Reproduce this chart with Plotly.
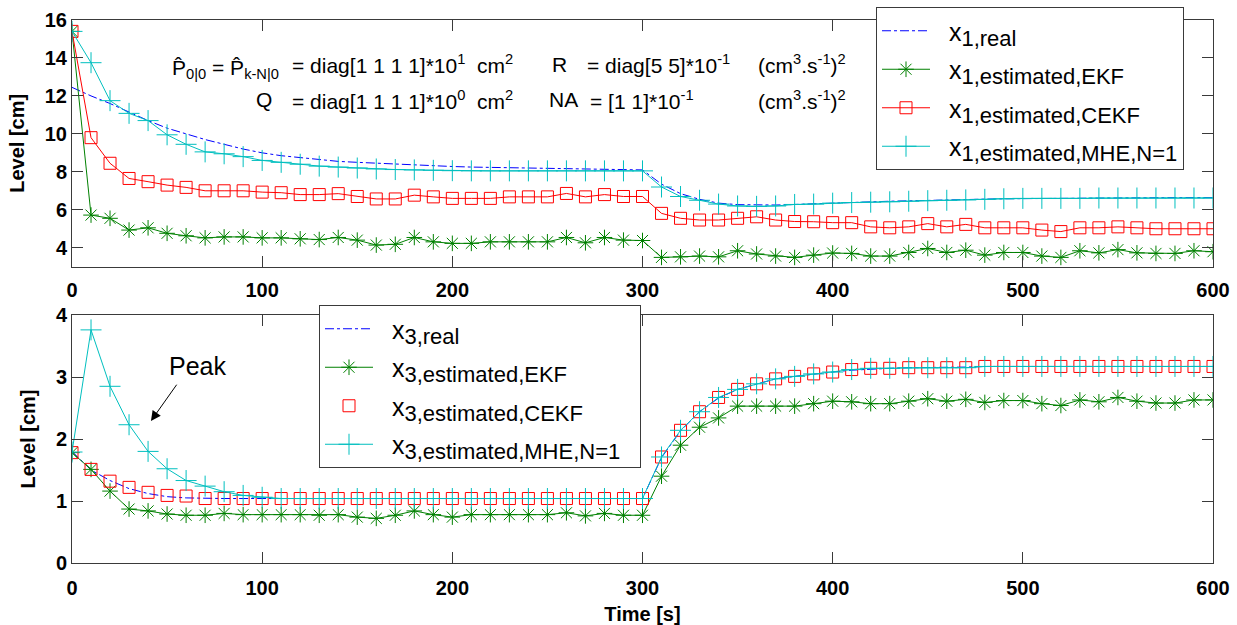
import plotly.graph_objects as go

# ---------------- data ----------------
time_s = [0, 10, 20, 30, 40, 50, 60, 70, 80, 90, 100, 110, 120, 130, 140, 150, 160, 170, 180, 190,
          200, 210, 220, 230, 240, 250, 260, 270, 280, 290, 300, 310, 320, 330, 340, 350, 360, 370, 380, 390,
          400, 410, 420, 430, 440, 450, 460, 470, 480, 490, 500, 510, 520, 530, 540, 550, 560, 570, 580, 590, 600]

x1_real = [12.45, 12.0, 11.6, 11.15, 10.7, 10.3, 10.0, 9.7, 9.45, 9.2, 9.0, 8.85, 8.75, 8.65, 8.55, 8.5,
           8.45, 8.4, 8.35, 8.32, 8.28, 8.25, 8.23, 8.21, 8.19, 8.17, 8.15, 8.14, 8.13, 8.12, 8.1,
           7.35, 6.85, 6.55, 6.35, 6.27, 6.24, 6.25, 6.28, 6.32, 6.36, 6.4, 6.42, 6.45, 6.47, 6.5,
           6.52, 6.54, 6.56, 6.58, 6.59, 6.6, 6.61, 6.62, 6.62, 6.63, 6.63, 6.63, 6.64, 6.64, 6.64]
x1_ekf = [15.4, 5.72, 5.55, 4.93, 5.05, 4.76, 4.63, 4.52, 4.57, 4.57, 4.52, 4.52, 4.47, 4.43, 4.54, 4.4,
          4.14, 4.18, 4.54, 4.31, 4.23, 4.23, 4.31, 4.31, 4.31, 4.31, 4.54, 4.26, 4.54, 4.4, 4.38,
          3.49, 3.52, 3.56, 3.52, 3.84, 3.67, 3.56, 3.49, 3.61, 3.72, 3.7, 3.56, 3.56, 3.75, 3.96,
          3.75, 3.87, 3.61, 3.75, 3.75, 3.56, 3.49, 3.84, 3.73, 3.9, 3.73, 3.7, 3.7, 3.84, 3.79]
x1_cekf = [15.4, 9.8, 8.45, 7.65, 7.48, 7.3, 7.18, 7.0, 7.0, 7.0, 6.93, 6.9, 6.8, 6.8, 6.85, 6.7,
           6.57, 6.57, 6.77, 6.68, 6.6, 6.6, 6.6, 6.68, 6.68, 6.68, 6.86, 6.68, 6.8, 6.7, 6.7,
           5.81, 5.55, 5.46, 5.46, 5.55, 5.63, 5.46, 5.38, 5.37, 5.32, 5.32, 5.1, 5.05, 5.1, 5.27,
           5.1, 5.23, 5.05, 5.05, 5.05, 4.93, 4.85, 5.05, 5.05, 5.1, 5.05, 5.0, 5.0, 5.0, 5.0]
x1_mhe = [15.4, 13.75, 11.75, 11.08, 10.7, 9.95, 9.45, 9.05, 8.95, 8.8, 8.6, 8.5, 8.4, 8.3, 8.25, 8.2,
          8.15, 8.12, 8.1, 8.08, 8.06, 8.05, 8.05, 8.05, 8.05, 8.05, 8.05, 8.05, 8.05, 8.05, 8.05,
          7.2, 6.7, 6.5, 6.3, 6.2, 6.18, 6.2, 6.28, 6.3, 6.35, 6.38, 6.4, 6.42, 6.45, 6.48,
          6.5, 6.52, 6.55, 6.58, 6.6, 6.6, 6.6, 6.6, 6.62, 6.62, 6.62, 6.62, 6.62, 6.62, 6.62]

x3_real = [1.8, 1.5, 1.33, 1.2, 1.12, 1.07, 1.05, 1.04, 1.04, 1.04, 1.04, 1.04, 1.04, 1.04, 1.04, 1.04,
           1.04, 1.04, 1.04, 1.04, 1.04, 1.04, 1.04, 1.04, 1.04, 1.04, 1.04, 1.04, 1.04, 1.04, 1.04,
           1.7, 2.13, 2.44, 2.66, 2.8, 2.89, 2.97, 3.01, 3.05, 3.08, 3.11, 3.13, 3.14, 3.15, 3.15,
           3.16, 3.16, 3.17, 3.17, 3.17, 3.17, 3.17, 3.17, 3.17, 3.17, 3.17, 3.17, 3.17, 3.17, 3.17]
x3_ekf = [1.78, 1.51, 1.16, 0.87, 0.84, 0.79, 0.77, 0.77, 0.8, 0.78, 0.78, 0.78, 0.78, 0.77, 0.78, 0.74,
          0.72, 0.77, 0.84, 0.78, 0.74, 0.78, 0.78, 0.78, 0.78, 0.78, 0.81, 0.76, 0.8, 0.77, 0.77,
          1.4, 1.9, 2.19, 2.34, 2.53, 2.53, 2.53, 2.53, 2.57, 2.61, 2.6, 2.57, 2.57, 2.61, 2.65,
          2.61, 2.64, 2.59, 2.62, 2.62, 2.57, 2.54, 2.63, 2.6, 2.67, 2.61, 2.58, 2.58, 2.63, 2.63]
x3_cekf = [1.78, 1.51, 1.32, 1.22, 1.14, 1.09, 1.08, 1.04, 1.04, 1.04, 1.04, 1.04, 1.04, 1.04, 1.04, 1.04,
           1.04, 1.04, 1.04, 1.04, 1.04, 1.04, 1.04, 1.04, 1.04, 1.04, 1.04, 1.04, 1.04, 1.04, 1.04,
           1.71, 2.14, 2.44, 2.67, 2.8, 2.89, 2.97, 3.01, 3.05, 3.08, 3.12, 3.14, 3.14, 3.15, 3.15,
           3.15, 3.15, 3.17, 3.17, 3.17, 3.17, 3.17, 3.17, 3.17, 3.17, 3.17, 3.17, 3.17, 3.17, 3.17]
x3_mhe = [1.79, 3.76, 2.85, 2.23, 1.8, 1.52, 1.33, 1.24, 1.15, 1.09, 1.06, 1.04, 1.04, 1.04, 1.04, 1.04,
          1.04, 1.04, 1.04, 1.04, 1.04, 1.04, 1.04, 1.04, 1.04, 1.04, 1.04, 1.04, 1.04, 1.04, 1.04,
          1.71, 2.14, 2.44, 2.67, 2.8, 2.89, 2.97, 3.01, 3.05, 3.08, 3.12, 3.14, 3.14, 3.15, 3.15,
          3.15, 3.15, 3.17, 3.17, 3.17, 3.17, 3.17, 3.17, 3.17, 3.17, 3.17, 3.17, 3.17, 3.17, 3.17]

x_ticks = [0, 100, 200, 300, 400, 500, 600]
top_y_ticks = [4, 6, 8, 10, 12, 14, 16]
bot_y_ticks = [0, 1, 2, 3, 4]

# ---------------- style ----------------
BLUE = "#0000ff"
GREEN = "#008000"
RED = "#ff0000"
CYAN = "#00bfbf"
FRAME = "#3a3a3a"
FONT = "Liberation Sans, Arial, sans-serif"

W, H = 1237, 625
ML, MR, MT, MB = 72, 24, 20, 62
PW, PH = W - ML - MR, H - MT - MB


def pxx(px):
    return (px - ML) / PW


def pxy(py):
    return (H - MB - py) / PH


def lname(idx, rest, tail=""):
    return ("\u00a0\u00a0x<sub><span style='font-size:22px'>%s,%s</span></sub>%s" % (idx, rest, tail))


fig = go.Figure()

# top panel
fig.add_trace(go.Scatter(x=time_s, y=x1_real, mode="lines", name=lname(1, "real"),
                         line=dict(color=BLUE, width=1, dash="dashdot"),
                         xaxis="x", yaxis="y", legend="legend", legendgroup="a1"))
fig.add_trace(go.Scatter(x=time_s, y=x1_ekf, mode="lines+markers", name=lname(1, "estimated,EKF"),
                         line=dict(color=GREEN, width=1),
                         marker=dict(symbol="asterisk-open", size=13, color=GREEN,
                                     line=dict(color=GREEN, width=1)),
                         xaxis="x", yaxis="y", legend="legend", legendgroup="a2"))
fig.add_trace(go.Scatter(x=time_s, y=x1_cekf, mode="lines+markers", name=lname(1, "estimated,CEKF"),
                         line=dict(color=RED, width=1),
                         marker=dict(symbol="square-open", size=12, color=RED,
                                     line=dict(color=RED, width=1)),
                         xaxis="x", yaxis="y", legend="legend", legendgroup="a3"))
fig.add_trace(go.Scatter(x=time_s, y=x1_mhe, mode="lines+markers", name=lname(1, "estimated,MHE,N=1"),
                         line=dict(color=CYAN, width=1),
                         marker=dict(symbol="cross-thin-open", size=15, color=CYAN,
                                     line=dict(color=CYAN, width=1)),
                         xaxis="x", yaxis="y", legend="legend", legendgroup="a4"))

# bottom panel
TAIL = "\u00a0\u00a0"
fig.add_trace(go.Scatter(x=time_s, y=x3_real, mode="lines", name=lname(3, "real", TAIL),
                         line=dict(color=BLUE, width=1, dash="dashdot"),
                         xaxis="x2", yaxis="y2", legend="legend2", legendgroup="b1"))
fig.add_trace(go.Scatter(x=time_s, y=x3_ekf, mode="lines+markers", name=lname(3, "estimated,EKF", TAIL),
                         line=dict(color=GREEN, width=1),
                         marker=dict(symbol="asterisk-open", size=13, color=GREEN,
                                     line=dict(color=GREEN, width=1)),
                         xaxis="x2", yaxis="y2", legend="legend2", legendgroup="b2"))
fig.add_trace(go.Scatter(x=time_s, y=x3_cekf, mode="markers", name=lname(3, "estimated,CEKF", TAIL),
                         marker=dict(symbol="square-open", size=12, color=RED,
                                     line=dict(color=RED, width=1)),
                         xaxis="x2", yaxis="y2", legend="legend2", legendgroup="b3"))
fig.add_trace(go.Scatter(x=time_s, y=x3_mhe, mode="lines+markers", name=lname(3, "estimated,MHE,N=1", TAIL),
                         line=dict(color=CYAN, width=1),
                         marker=dict(symbol="cross-thin-open", size=15, color=CYAN,
                                     line=dict(color=CYAN, width=1)),
                         xaxis="x2", yaxis="y2", legend="legend2", legendgroup="b4"))

tickfont = dict(family=FONT, size=20, color="black", weight="bold")
titlefont = dict(family=FONT, size=20, color="black", weight="bold")

axis_common = dict(showline=True, linecolor=FRAME, linewidth=1, mirror="ticks",
                   ticks="inside", ticklen=11, tickcolor=FRAME, tickwidth=1,
                   showgrid=False, zeroline=False, tickfont=tickfont, automargin=False)

top_dom = [pxy(266.7), 1.0]
bot_dom = [0.0, pxy(315)]

legend_common = dict(bgcolor="white", bordercolor=FRAME, borderwidth=1,
                     font=dict(family=FONT, size=25, color="black"),
                     itemwidth=48, tracegroupgap=3, xanchor="left", yanchor="top",
                     itemclick=False)

fig.update_layout(
    width=W, height=H,
    margin=dict(l=ML, r=MR, t=MT, b=MB, autoexpand=False),
    paper_bgcolor="white", plot_bgcolor="white",
    showlegend=True,
    xaxis=dict(domain=[0, 1], range=[0, 600], tickvals=x_ticks, anchor="y",
               ticklabelstandoff=5, **axis_common),
    yaxis=dict(domain=top_dom, range=[3, 16], tickvals=top_y_ticks, anchor="x",
               title=dict(text="Level [cm]", font=titlefont, standoff=14), **axis_common),
    xaxis2=dict(domain=[0, 1], range=[0, 600], tickvals=x_ticks, anchor="y2",
                ticklabelstandoff=7,
                title=dict(text="Time [s]", font=titlefont, standoff=10), **axis_common),
    yaxis2=dict(domain=bot_dom, range=[0, 4], tickvals=bot_y_ticks, anchor="x2",
                title=dict(text="Level [cm]", font=titlefont, standoff=14), **axis_common),
    legend=dict(x=pxx(876), y=pxy(7), **legend_common),
    legend2=dict(x=pxx(319), y=pxy(305), **legend_common),
)

# parameter text in top panel
afont = dict(family=FONT, size=21, color="black")
texts = [
    ("P\u0302<sub>0|0</sub> = P\u0302<sub>k-N|0</sub>", 170, 69),
    ("= diag[1 1 1 1]*10<sup>1</sup>  cm<sup>2</sup>", 290, 64),
    ("R", 550, 64),
    ("= diag[5 5]*10<sup>-1</sup>", 585, 64),
    ("(cm<sup>3</sup>.s<sup>-1</sup>)<sup>2</sup>", 756, 64),
    ("Q", 254, 100),
    ("= diag[1 1 1 1]*10<sup>0</sup>  cm<sup>2</sup>", 290, 100),
    ("NA", 547, 100),
    ("= [1 1]*10<sup>-1</sup>", 588, 100),
    ("(cm<sup>3</sup>.s<sup>-1</sup>)<sup>2</sup>", 756, 100),
]
for txt, px, py in texts:
    fig.add_annotation(text=txt, x=pxx(px), y=pxy(py), xref="paper", yref="paper",
                       xanchor="left", yanchor="middle", showarrow=False, font=afont)

# Peak annotation
fig.add_annotation(text="Peak", x=66, y=3.17, xref="x2", yref="y2", showarrow=False,
                   font=dict(family=FONT, size=25, color="black"))
fig.add_annotation(text="", x=41.5, y=2.29, ax=55.6, ay=2.9, xref="x2", yref="y2",
                   axref="x2", ayref="y2", showarrow=True, arrowhead=2, arrowsize=2,
                   arrowwidth=1, arrowcolor="black")

fig.write_html("out.html", config={"displayModeBar": False},
               post_script="document.body.style.margin='0';document.body.style.overflow='hidden';")
